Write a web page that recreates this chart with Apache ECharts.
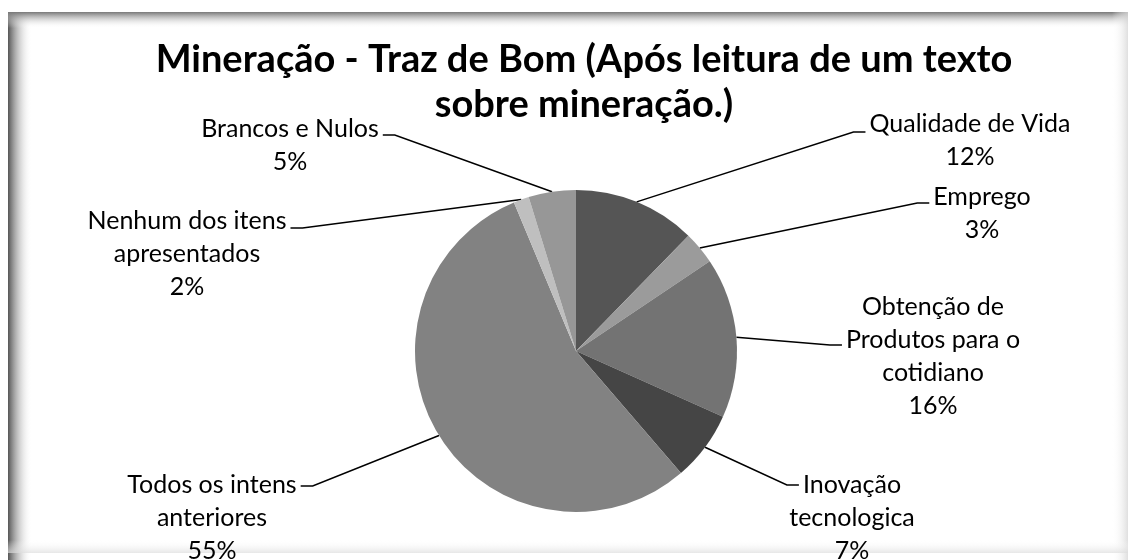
<!DOCTYPE html>
<html>
<head>
<meta charset="utf-8">
<script src="https://cdn.jsdelivr.net/npm/echarts@6/dist/echarts.min.js"></script>
<style>
html, body { margin: 0; padding: 0; background: #fff; }
#chart { width: 1131px; height: 560px; }
</style>
</head>
<body>
<div id="chart"></div>
<script>
// dados (percentuais)
var categorias = ['Qualidade de Vida', 'Emprego', 'Obtenção de\nProdutos para o\ncotidiano', 'Inovação\ntecnologica',
    'Todos os intens\nanteriores', 'Nenhum dos itens\napresentados', 'Brancos e Nulos'];
var valores = [12.3, 3.3, 16.1, 7.0, 55.0, 1.55, 4.75];
var cores = ['#555555', '#9b9b9b', '#737373', '#454545', '#828282', '#bfbfbf', '#979797'];

// posição dos rótulos: centro x, centro y da 1a linha, linha onde a guia chega, ajuste vertical
var rotulos = [
    { x: 970, y: 124, linha: 0, dy: 8 },
    { x: 982, y: 197, linha: 0, dy: 6 },
    { x: 933, y: 307, linha: 1, dy: 5 },
    { x: 852, y: 485, linha: 0, dy: 0 },
    { x: 212, y: 485, linha: 0, dy: 1 },
    { x: 187, y: 221, linha: 0, dy: 7 },
    { x: 290, y: 129, linha: 0, dy: 6 }
];

var fonte = 'Lato';
var tamRotulo = 25;
var alturaLinha = 33;

var ctx = document.createElement('canvas').getContext('2d');
function medir(txt) {
    ctx.font = tamRotulo + 'px ' + fonte;
    return ctx.measureText(txt).width;
}

var dados = categorias.map(function (nome, i) {
    return { name: nome, value: valores[i], itemStyle: { color: cores[i] } };
});

function grad(x2, y2, c0, c1) {
    return { type: 'linear', x: 0, y: 0, x2: x2, y2: y2, colorStops: [{ offset: 0, color: c0 }, { offset: 1, color: c1 }] };
}

var myChart = echarts.init(document.getElementById('chart'));
myChart.setOption({
    animation: false,
    backgroundColor: '#fff',
    // moldura com sombra
    graphic: [
        { type: 'rect', z: -10, shape: { x: 8, y: 12, width: 1120, height: 548 }, style: { fill: '#fff' } },
        { type: 'rect', z: -9, shape: { x: 8, y: 12, width: 24, height: 548 }, style: { fill: grad(1, 0, 'rgba(85,85,85,1)', 'rgba(255,255,255,0)') } },
        { type: 'rect', z: -9, shape: { x: 8, y: 12, width: 1120, height: 16 }, style: { fill: grad(0, 1, 'rgba(120,120,120,1)', 'rgba(255,255,255,0)') } },
        { type: 'rect', z: -9, shape: { x: 1112, y: 12, width: 16, height: 548 }, style: { fill: grad(1, 0, 'rgba(255,255,255,0)', 'rgba(215,215,215,0.8)') } },
        { type: 'rect', z: -9, shape: { x: 8, y: 540, width: 1120, height: 13 }, style: { fill: grad(0, 1, 'rgba(255,255,255,0)', 'rgba(220,220,220,0.7)') } }
    ],
    title: {
        text: 'Mineração - Traz de Bom (Após leitura de um texto\nsobre mineração.)',
        left: 584,
        top: 37,
        padding: 0,
        textAlign: 'center',
        textStyle: {
            fontFamily: fonte,
            fontWeight: 'bold',
            fontSize: 38,
            lineHeight: 45,
            color: '#000'
        }
    },
    series: [{
        type: 'pie',
        center: [576, 351],
        radius: 161,
        startAngle: 90,
        clockwise: true,
        percentPrecision: 0,
        emphasis: { disabled: true },
        itemStyle: { borderWidth: 0 },
        label: {
            show: true,
            position: 'outside',
            formatter: '{b}\n{d}%',
            fontFamily: fonte,
            fontSize: tamRotulo,
            lineHeight: alturaLinha,
            color: '#000'
        },
        labelLine: {
            show: true,
            lineStyle: { color: '#000', width: 1.5 }
        },
        labelLayout: function (p) {
            var r = rotulos[p.dataIndex];
            var linhas = p.text.split('\n');
            var lw = medir(linhas[r.linha]);
            var ancora = p.labelLinePoints[0];
            var direita = r.x > ancora[0];
            var ey = r.y + r.linha * alturaLinha + r.dy;
            var ex = direita ? r.x - lw / 2 - 4 : r.x + lw / 2 + 4;
            var cx = direita ? ex - 12 : ex + 12;
            return {
                x: r.x,
                y: r.y - alturaLinha / 2,
                align: 'center',
                verticalAlign: 'top',
                labelLinePoints: [ancora, [cx, ey], [ex, ey]]
            };
        },
        data: dados
    }]
});
</script>
</body>
</html>
